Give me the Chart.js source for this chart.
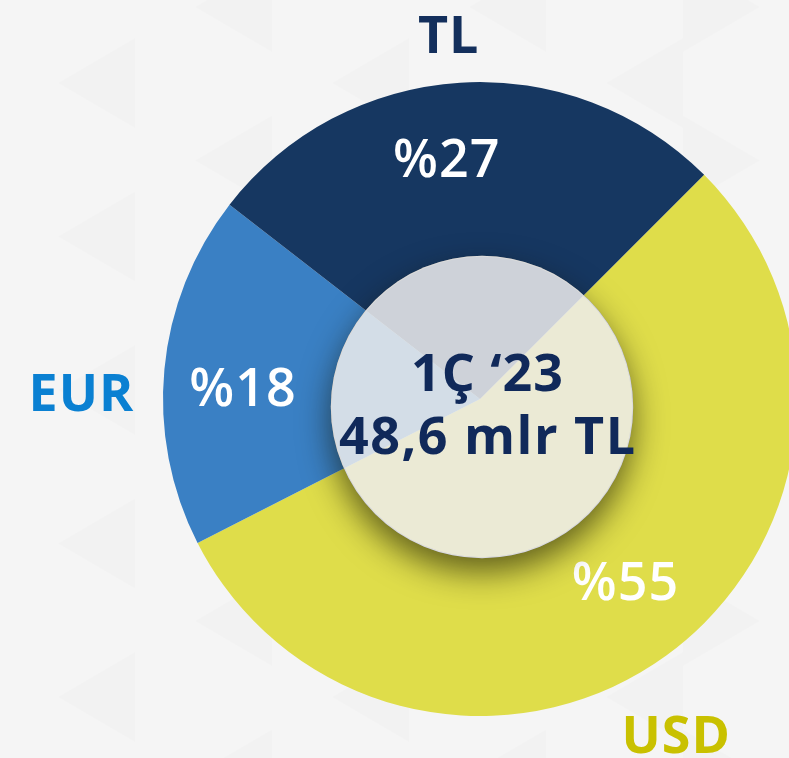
<!DOCTYPE html>
<html><head><meta charset="utf-8">
<script src="https://cdn.jsdelivr.net/npm/chart.js@4/dist/chart.umd.min.js"></script>
<style>
html,body{margin:0;padding:0;background:#f5f5f5;overflow:hidden;width:789px;height:758px}
#wrap{position:absolute;left:0;top:0;width:810px;height:758px}
</style></head><body>
<div id="wrap"><canvas id="c"></canvas></div>
<script>
// ---- data ----
const categories = ['USD', 'EUR', 'TL'];
const shares = [55, 18, 27];
const valueLabels = ['%55', '%18', '%27'];
const centerTitle = '1Ç ‘23';
const centerTotal = '48,6 mlr TL';

// ---- styles ----
const sliceColors = ['#dfdd4a', '#3a80c4', '#163761'];
const nameColors = ['#c9c100', '#0a80d2', '#132f5c'];
const navyText = '#10295a';
// label anchors: angle clockwise from top (deg), distance in outer radii
const nameAnchors = [{a: 149.7, d: 1.224}, {a: 271.0, d: 1.259}, {a: 355.0, d: 1.153}];
const valueAnchors = [{a: 141.5, d: 0.735}, {a: 272.8, d: 0.750}, {a: 352.0, d: 0.766}];
const FONT = '"Open Sans", "Noto Sans", sans-serif';

function drawText(ctx, txt, x, yCapCenter, size, weight, color, spacing) {
  ctx.font = weight + ' ' + size + 'px ' + FONT;
  try { ctx.letterSpacing = (spacing || 0) + 'px'; } catch (e) {}
  ctx.fillStyle = color;
  ctx.textAlign = 'center';
  ctx.textBaseline = 'alphabetic';
  ctx.fillText(txt, x + (spacing || 0) / 2, yCapCenter + size * 0.714 / 2);
}

// faint triangle pattern of the page background
const backdrop = {
  id: 'backdrop',
  beforeDraw(chart) {
    const ctx = chart.ctx;
    ctx.save();
    ctx.fillStyle = 'rgba(0,0,0,0.012)';
    for (let k = 0; k < 6; k++) {
      const tipX = 58 + 137 * k;
      const right = k >= 5;
      for (let j = -1; j < 6; j++) {
        const ty = 83 + 153.5 * j - (k % 2 ? 76 : 0);
        ctx.beginPath();
        if (right) {
          ctx.moveTo(tipX + 77 - 60, ty);
          ctx.lineTo(tipX - 60, ty - 45);
          ctx.lineTo(tipX - 60, ty + 45);
        } else {
          ctx.moveTo(tipX, ty);
          ctx.lineTo(tipX + 77, ty - 45);
          ctx.lineTo(tipX + 77, ty + 45);
        }
        ctx.closePath();
        ctx.fill();
      }
    }
    ctx.restore();
  }
};

const overlay = {
  id: 'overlay',
  afterDatasetsDraw(chart) {
    const ctx = chart.ctx;
    const arcs = chart.getDatasetMeta(0).data;
    const a0 = arcs[0];
    const cx = a0.x, cy = a0.y, R = a0.outerRadius;
    // value labels inside slices
    arcs.forEach((arc, i) => {
      const t = valueAnchors[i].a * Math.PI / 180;
      const x = cx + Math.sin(t) * valueAnchors[i].d * R;
      const y = cy - Math.cos(t) * valueAnchors[i].d * R;
      drawText(ctx, valueLabels[i], x, y, 52, 600, '#ffffff', 1);
    });
    // center disc with shadow
    const dx = cx + 2, dy = cy + 8, r = R * 0.477;
    ctx.save();
    ctx.beginPath();
    ctx.rect(0, 0, chart.width, chart.height);
    ctx.arc(dx, dy, r - 1, 0, Math.PI * 2, true);
    ctx.clip('evenodd');
    ctx.shadowColor = 'rgba(20,20,0,0.62)';
    ctx.shadowBlur = 32;
    ctx.shadowOffsetX = 0;
    ctx.shadowOffsetY = 14;
    ctx.beginPath();
    ctx.arc(dx, dy, r, 0, Math.PI * 2);
    ctx.fillStyle = '#777';
    ctx.fill();
    ctx.restore();
    ctx.save();
    ctx.beginPath();
    ctx.arc(dx, dy, r, 0, Math.PI * 2);
    ctx.fillStyle = 'rgba(236,236,236,0.86)';
    ctx.fill();
    ctx.restore();
    // center text
    drawText(ctx, centerTitle, cx + 7, cy - 27, 52, 700, navyText, 1);
    drawText(ctx, centerTotal, cx + 7, cy + 36, 52, 700, navyText, 1.5);
    // outside category names
    arcs.forEach((arc, i) => {
      const t = nameAnchors[i].a * Math.PI / 180;
      const x = cx + Math.sin(t) * nameAnchors[i].d * R;
      const y = cy - Math.cos(t) * nameAnchors[i].d * R;
      drawText(ctx, categories[i], x, y, 52, 700, nameColors[i], 1);
    });
  }
};

new Chart(document.getElementById('c'), {
  type: 'pie',
  data: {
    labels: categories,
    datasets: [{
      data: shares,
      backgroundColor: sliceColors,
      borderWidth: 0,
      hoverOffset: 0
    }]
  },
  options: {
    responsive: true,
    maintainAspectRatio: false,
    animation: false,
    rotation: 45,
    layout: { padding: { left: 163, right: 13, top: 82, bottom: 42 } },
    plugins: { legend: { display: false }, tooltip: { enabled: false } }
  },
  plugins: [backdrop, overlay]
});
</script>
</body></html>
